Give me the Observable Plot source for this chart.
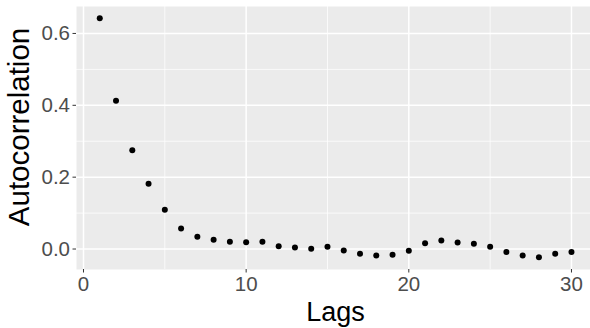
<!DOCTYPE html>
<html>
<head>
<meta charset="utf-8">
<script src="https://cdn.jsdelivr.net/npm/d3@7"></script>
<script src="https://cdn.jsdelivr.net/npm/@observablehq/plot@0.6"></script>
<style>
  html, body { margin: 0; padding: 0; background: #fff; }
  #chart svg { display: block; }
</style>
</head>
<body>
<div id="chart"></div>
<script>
const lags = [1,2,3,4,5,6,7,8,9,10,11,12,13,14,15,16,17,18,19,20,21,22,23,24,25,26,27,28,29,30];
const acf = [0.642,0.413,0.275,0.182,0.109,0.057,0.034,0.026,0.020,0.019,0.020,0.008,0.004,0.001,0.006,-0.004,-0.013,-0.018,-0.016,-0.005,0.016,0.024,0.018,0.015,0.006,-0.008,-0.018,-0.023,-0.013,-0.008];
const xMajor = [0,10,20,30];
const xMinor = [5,15,25];
const yMajor = [0,0.2,0.4,0.6];
const yMinor = [0.1,0.3,0.5];
const xTitle = "Lags";
const yTitle = "Autocorrelation";

const data = lags.map((l, i) => ({lag: l, acf: acf[i]}));

const chart = Plot.plot({
  width: 590,
  height: 328,
  marginLeft: 76,
  marginRight: 0,
  marginTop: 6,
  marginBottom: 59,
  style: {fontFamily: "Liberation Sans, Arial, sans-serif", background: "#fff"},
  x: {domain: [-0.43, 31.17], axis: null},
  y: {domain: [-0.057, 0.675], axis: null},
  marks: [
    Plot.frame({fill: "#EBEBEB", stroke: null}),
    Plot.ruleX(xMinor, {stroke: "#fff", strokeWidth: 0.75}),
    Plot.ruleY(yMinor, {stroke: "#fff", strokeWidth: 0.75}),
    Plot.ruleX(xMajor, {stroke: "#fff", strokeWidth: 1.5}),
    Plot.ruleY(yMajor, {stroke: "#fff", strokeWidth: 1.5}),
    Plot.axisX({ticks: xMajor, tickSize: 3.5, tickPadding: 3, stroke: "#333", fill: "#4D4D4D", fontSize: 20.5, label: null, tickFormat: d3.format("d")}),
    Plot.axisY({ticks: yMajor, tickSize: 3.5, tickPadding: 3, stroke: "#333", fill: "#4D4D4D", fontSize: 20.5, label: null, tickFormat: d3.format(".1f")}),
    Plot.dot(data, {x: "lag", y: "acf", r: 3, fill: "#000", stroke: null}),
    Plot.text([xTitle], {frameAnchor: "bottom", lineAnchor: "bottom", dx: 2, dy: 51, fontSize: 27, fill: "#000"}),
    Plot.text([yTitle], {frameAnchor: "left", textAnchor: "middle", lineAnchor: "bottom", rotate: -90, dx: -48, dy: -11, fontSize: 29.5, fill: "#000"})
  ]
});
document.getElementById("chart").appendChild(chart);
</script>
</body>
</html>
